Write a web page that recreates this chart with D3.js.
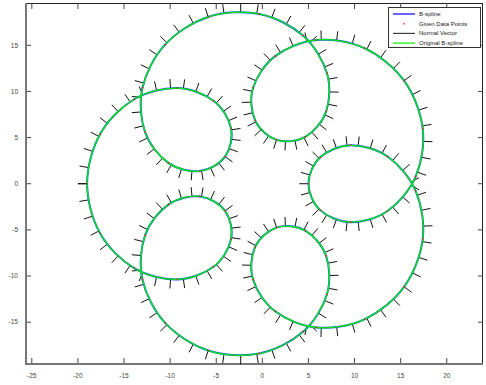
<!DOCTYPE html>
<html>
<head>
<meta charset="utf-8">
<script src="https://cdn.jsdelivr.net/npm/d3@7"></script>
<style>
  body { margin: 0; background: #fff; }
  svg { display: block; font-family: "Liberation Sans", Arial, sans-serif; }
</style>
</head>
<body>
<figure id="graph_view" style="margin:0"></figure>
<script>
// Given data points, read off the picture as polar pairs (degrees, radius),
// in drawing order starting at the leftmost point.
const pointAngle = [
  180, 196.97, 213.36, 228.26, 239.50, 240.51,
  216, 191.49, 192.50, 203.74, 218.64, 235.03,
  252, 268.97, 285.36, 300.26, 311.50, 312.51,
  288, 263.49, 264.50, 275.74, 290.64, 307.03,
  324, 340.97, 357.36, 12.26, 23.50, 24.51,
  0, 335.49, 336.50, 347.74, 2.64, 19.03,
  36, 52.97, 69.36, 84.26, 95.50, 96.51,
  72, 47.49, 48.50, 59.74, 74.64, 91.03,
  108, 124.97, 141.36, 156.26, 167.50, 168.51,
  144, 119.49, 120.50, 131.74, 146.64, 163.03
];
const pointRadius = [
  19, 18.398, 16.643, 13.892, 10.440, 6.893,
  5, 6.893, 10.440, 13.892, 16.643, 18.398,
  19, 18.398, 16.643, 13.892, 10.440, 6.893,
  5, 6.893, 10.440, 13.892, 16.643, 18.398,
  19, 18.398, 16.643, 13.892, 10.440, 6.893,
  5, 6.893, 10.440, 13.892, 16.643, 18.398,
  19, 18.398, 16.643, 13.892, 10.440, 6.893,
  5, 6.893, 10.440, 13.892, 16.643, 18.398,
  19, 18.398, 16.643, 13.892, 10.440, 6.893,
  5, 6.893, 10.440, 13.892, 16.643, 18.398
];

const xTicks = [-25, -20, -15, -10, -5, 0, 5, 10, 15, 20];
const yTicks = [-15, -10, -5, 0, 5, 10, 15];
const legendLabels = ["B-spline", "Given Data Points", "Normal Vector", "Original B-spline"];
const legendColors = ["#0000ff", "#ff0000", "#404040", "#00ee00"];

const normalCount = 190;
const normalLength = 1.0;

const width = 486;
const height = 385;

const x = d3.scaleLinear().domain([-25.63, 23.93]).range([26, 483]);
const y = d3.scaleLinear().domain([-19.53, 19.58]).range([364, 3]);

const svg = d3.select("figure#graph_view")
  .append("svg")
  .attr("width", width)
  .attr("height", height)
  .attr("viewBox", [0, 0, width, height]);

// Polar -> cartesian
const points = pointAngle.map((a, i) => {
  const rad = a * Math.PI / 180;
  return [pointRadius[i] * Math.cos(rad), pointRadius[i] * Math.sin(rad)];
});

// Uniform Catmull-Rom, same as curveCatmullRomClosed.alpha(0)
function splineAt(s) {
  const n = points.length;
  const i = Math.floor(s) % n;
  const u = s - Math.floor(s);
  const p0 = points[(i - 1 + n) % n], p1 = points[i];
  const p2 = points[(i + 1) % n], p3 = points[(i + 2) % n];
  const pos = [], der = [];
  for (let k = 0; k < 2; k++) {
    const a = 2 * p1[k];
    const b = -p0[k] + p2[k];
    const c = 2 * p0[k] - 5 * p1[k] + 4 * p2[k] - p3[k];
    const d = -p0[k] + 3 * p1[k] - 3 * p2[k] + p3[k];
    pos.push(0.5 * (a + b * u + c * u * u + d * u * u * u));
    der.push(0.5 * (b + 2 * c * u + 3 * d * u * u));
  }
  return { pos, der };
}

const normals = d3.range(normalCount + 1).map(k => {
  const { pos, der } = splineAt(k * points.length / normalCount);
  const len = Math.hypot(der[0], der[1]);
  const nx = der[1] / len, ny = -der[0] / len;
  return [pos, [pos[0] + nx * normalLength, pos[1] + ny * normalLength]];
});

// Frame
svg.append("line").attr("x1", 26).attr("x2", 483).attr("y1", 3.5).attr("y2", 3.5)
  .attr("stroke", "#222").attr("stroke-width", 1);
svg.append("line").attr("x1", 482.5).attr("x2", 482.5).attr("y1", 3).attr("y2", 364)
  .attr("stroke", "#222").attr("stroke-width", 1);

// Ticks on all four sides
const tickG = svg.append("g").attr("stroke", "#444").attr("stroke-width", 1);
tickG.selectAll(".xb").data(xTicks).join("line")
  .attr("x1", d => x(d)).attr("x2", d => x(d)).attr("y1", 364).attr("y2", 358);
tickG.selectAll(".xt").data(xTicks).join("line")
  .attr("x1", d => x(d)).attr("x2", d => x(d)).attr("y1", 3).attr("y2", 9);
tickG.selectAll(".yl").data(yTicks).join("line")
  .attr("x1", 26).attr("x2", 31).attr("y1", d => y(d)).attr("y2", d => y(d));
tickG.selectAll(".yr").data(yTicks).join("line")
  .attr("x1", 483).attr("x2", 478).attr("y1", d => y(d)).attr("y2", d => y(d));

svg.append("line").attr("x1", 26).attr("x2", 26).attr("y1", 3).attr("y2", 365)
  .attr("stroke", "#777").attr("stroke-width", 2);
svg.append("line").attr("x1", 25).attr("x2", 483).attr("y1", 364).attr("y2", 364)
  .attr("stroke", "#777").attr("stroke-width", 2);

// Tick labels
svg.append("g").selectAll("text").data(xTicks).join("text")
  .attr("x", d => x(d)).attr("y", 378)
  .attr("text-anchor", "middle").attr("font-size", 6.5).attr("fill", "#444")
  .text(d => d);
svg.append("g").selectAll("text").data(yTicks).join("text")
  .attr("x", 18).attr("y", d => y(d) + 2.3)
  .attr("text-anchor", "end").attr("font-size", 6.5).attr("fill", "#444")
  .text(d => d);

// Normal vectors
svg.append("g").selectAll("line").data(normals).join("line")
  .attr("x1", d => x(d[0][0])).attr("y1", d => y(d[0][1]))
  .attr("x2", d => x(d[1][0])).attr("y2", d => y(d[1][1]))
  .attr("stroke", "#111").attr("stroke-width", 1);

const line = d3.line()
  .x(d => x(d[0])).y(d => y(d[1]))
  .curve(d3.curveCatmullRomClosed.alpha(0));

// B-spline, then original drawn over it
svg.append("path").datum(points).attr("d", line)
  .attr("fill", "none").attr("stroke", "#3050ff").attr("stroke-width", 2);
svg.append("path").datum(points).attr("d", line)
  .attr("fill", "none").attr("stroke", "#00ee00").attr("stroke-width", 1.3);

// Given data points
svg.append("g").selectAll("circle").data(points).join("circle")
  .attr("cx", d => x(d[0])).attr("cy", d => y(d[1])).attr("r", 0.8)
  .attr("fill", "#d02020");

// Legend
const legend = svg.append("g");
legend.append("rect").attr("x", 388.5).attr("y", 7.5).attr("width", 92).attr("height", 40)
  .attr("fill", "#fff").attr("stroke", "#333").attr("stroke-width", 1);
legend.selectAll("text").data(legendLabels).join("text")
  .attr("x", 419).attr("y", (d, i) => 16 + i * 9.7)
  .attr("font-size", 6).attr("fill", "#222")
  .text(d => d);
legend.selectAll(".sample").data(legendLabels).join("line")
  .filter((d, i) => i !== 1)
  .attr("x1", 393).attr("x2", 415)
  .attr("y1", (d, i) => 14 + legendLabels.indexOf(d) * 9.7)
  .attr("y2", (d, i) => 14 + legendLabels.indexOf(d) * 9.7)
  .attr("stroke", d => legendColors[legendLabels.indexOf(d)])
  .attr("stroke-width", 1.2);
legend.append("circle").attr("cx", 404).attr("cy", 23.7).attr("r", 0.9).attr("fill", "#ff4040");
</script>
</body>
</html>
